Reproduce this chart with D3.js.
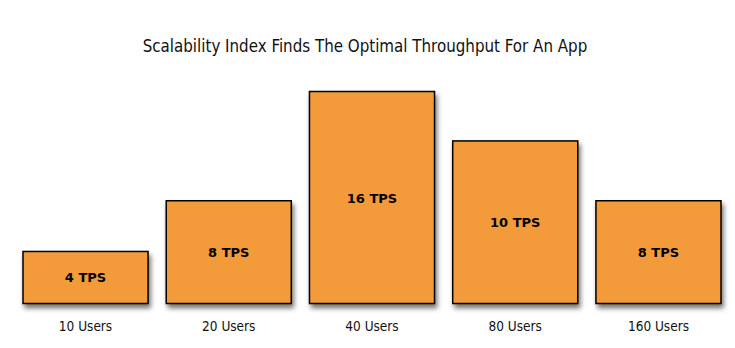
<!DOCTYPE html>
<html><head><meta charset="utf-8">
<script src="https://cdn.jsdelivr.net/npm/d3@7"></script>
<style>body{margin:0;background:#fff;} svg{display:block;}</style>
</head><body>
<script>
const categories = ["10 Users", "20 Users", "40 Users", "80 Users", "160 Users"];
const tpsLabels = ["4 TPS", "8 TPS", "16 TPS", "10 TPS", "8 TPS"];
// bar heights as drawn in the picture (in TPS units)
const barValues = [4, 7.9, 16.3, 12.5, 7.9];
const title = "Scalability Index Finds The Optimal Throughput For An App";

const W = 735, H = 348;
const FONT = "'DejaVu Sans Condensed', 'DejaVu Sans', Verdana, sans-serif";
const svg = d3.select("body").append("svg").attr("width", W).attr("height", H);

const defs = svg.append("defs");
const f = defs.append("filter").attr("id","sh").attr("x","-10%").attr("y","-10%").attr("width","130%").attr("height","130%");
f.append("feDropShadow").attr("dx",2).attr("dy",4).attr("stdDeviation",2.5).attr("flood-color","#000").attr("flood-opacity",0.55);

const x = d3.scaleBand().domain(categories).range([23, 721]).paddingInner(0.127).paddingOuter(0);
const y = d3.scaleLinear().domain([0, 16.3]).range([303.5, 91.5]);

svg.append("text").attr("x", 365).attr("y", 52.3).attr("text-anchor","middle")
  .attr("font-family", FONT).attr("font-size", 16.8).attr("fill","#111")
  .text(title);

const g = svg.append("g");
g.selectAll("rect").data(barValues).join("rect")
  .attr("x", (d,i) => x(categories[i]))
  .attr("y", d => y(d))
  .attr("width", x.bandwidth())
  .attr("height", d => y(0) - y(d))
  .attr("fill", "#F39B3A")
  .attr("stroke", "#000").attr("stroke-width", 1.5)
  .attr("filter", "url(#sh)");

g.selectAll("text.v").data(barValues).join("text").attr("class","v")
  .attr("x", (d,i) => x(categories[i]) + x.bandwidth()/2)
  .attr("y", d => (y(d) + y(0))/2 + 5)
  .attr("text-anchor","middle")
  .attr("font-family","'DejaVu Sans', Verdana, sans-serif").attr("font-weight","bold").attr("font-size", 13)
  .attr("fill","#000")
  .text((d,i) => tpsLabels[i]);

g.selectAll("text.c").data(categories).join("text").attr("class","c")
  .attr("x", d => x(d) + x.bandwidth()/2)
  .attr("y", 330.5)
  .attr("text-anchor","middle")
  .attr("font-family", FONT).attr("font-size", 13.5)
  .attr("fill","#111")
  .text(d => d);
</script>
</body></html>
